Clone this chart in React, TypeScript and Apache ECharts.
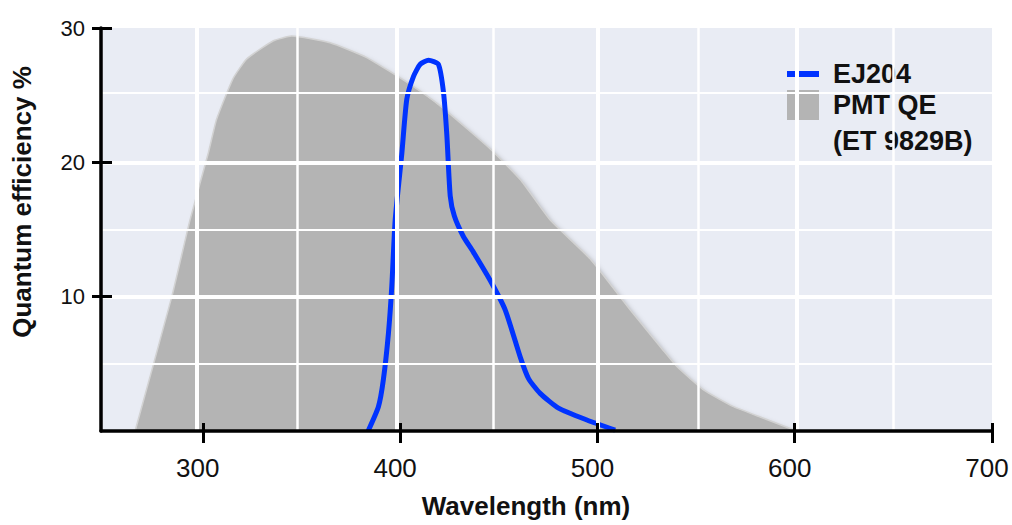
import React, { useEffect, useRef } from 'react';
import * as echarts from 'echarts';

// PMT quantum efficiency (ET 9829B): [wavelength nm, QE %]
const pmtQE: [number, number][] = [
  [265.7, 0], [284.3, 10], [293.5, 15.7], [302.8, 20.7], [307, 23.2], [315.2, 26.2],
  [322.3, 27.7], [335.8, 29.05], [345.1, 29.4], [364.5, 28.9], [383.1, 27.8],
  [405.1, 25.8], [420.3, 24.2], [445.7, 21.0], [461, 18.7], [476.1, 15.7],
  [496.4, 12.8], [516.7, 9.0], [533.4, 6.0], [540.3, 4.8], [553.8, 3.06],
  [569, 1.81], [584.2, 0.95], [601, 0],
];

// EJ204 emission spectrum (scaled): [wavelength nm, value]
const ej204: [number, number][] = [
  [383.8, 0], [389, 1.8], [391.5, 3.8], [394.1, 7.3], [395.8, 10.8], [397.5, 15.7],
  [400.9, 20.7], [403.4, 24.7], [406.8, 26.4], [410.2, 27.3], [414.4, 27.6],
  [419.4, 27.3], [422, 25.2], [423.7, 22], [425.4, 17.5], [427.5, 16], [432, 14.5],
  [437.2, 13.3], [445.7, 11.2], [453.3, 9.0], [460.9, 5.5], [465.1, 3.9], [471, 2.8],
  [480.3, 1.7], [494.7, 0.82], [509, 0.07],
];

const xTicks = [300, 400, 500, 600, 700];
const yTicks = [10, 20, 30];
const xGridMajor = [297, 398.5, 500, 601];
const xGridMinor = [348, 447, 551, 650];
const yGridMajor = [10, 20];
const yGridMinor = [5, 15, 25.2];

const X_MIN = 248.4;
const X_MAX = 700;
const FONT = '"Liberation Sans", Arial, Helvetica, sans-serif';

export default function App() {
  const ref = useRef<HTMLDivElement>(null);

  useEffect(() => {
    if (!ref.current) return;
    const chart = echarts.init(ref.current, undefined, { renderer: 'svg' });

    const gridLines = [
      ...xGridMajor.map((v) => ({ xAxis: v, lineStyle: { width: 4 } })),
      ...xGridMinor.map((v) => ({ xAxis: v, lineStyle: { width: 2.5 } })),
      ...yGridMajor.map((v) => ({ yAxis: v, lineStyle: { width: 4 } })),
      ...yGridMinor.map((v) => ({ yAxis: v, lineStyle: { width: 2 } })),
    ];

    const axisLineStyle = { color: '#000', width: 3.5 };
    const legendText = {
      fontSize: 27,
      fontWeight: 'bold',
      color: '#111',
      fontFamily: FONT,
      padding: [0, 0, 0, 9],
    };

    chart.setOption({
      animation: false,
      textStyle: { fontFamily: FONT },
      grid: {
        left: 101,
        right: 20,
        top: 28,
        bottom: 94,
        show: true,
        backgroundColor: '#e9ecf4',
        borderWidth: 0,
      },
      xAxis: [
        {
          type: 'value',
          min: X_MIN,
          max: X_MAX,
          z: 10,
          axisLine: { show: true, onZero: false, lineStyle: axisLineStyle },
          axisTick: { show: true, customValues: xTicks, length: 12, lineStyle: { color: '#000', width: 3 } },
          axisLabel: {
            customValues: xTicks,
            fontSize: 26,
            color: '#111',
            margin: 24,
            fontFamily: FONT,
            padding: [0, 10, 0, 0],
          },
          splitLine: { show: false },
        },
        {
          type: 'value',
          min: X_MIN,
          max: X_MAX,
          position: 'bottom',
          z: 10,
          axisLine: { show: false },
          axisTick: { show: true, inside: true, customValues: xTicks, length: 8, lineStyle: { color: '#000', width: 3 } },
          axisLabel: { show: false },
          splitLine: { show: false },
        },
      ],
      yAxis: [
        {
          type: 'value',
          min: 0,
          max: 30,
          interval: 10,
          z: 10,
          axisLine: { show: true, onZero: false, lineStyle: axisLineStyle },
          axisTick: { show: true, customValues: yTicks, length: 9, lineStyle: { color: '#000', width: 3 } },
          axisLabel: {
            customValues: yTicks,
            fontSize: 22,
            color: '#111',
            margin: 16,
            fontFamily: FONT,
            padding: [0, 0, 8, 0],
          },
          splitLine: { show: false },
        },
        {
          type: 'value',
          min: 0,
          max: 30,
          interval: 10,
          position: 'left',
          z: 10,
          axisLine: { show: false },
          axisTick: { show: true, inside: true, customValues: yTicks, length: 11, lineStyle: { color: '#000', width: 3 } },
          axisLabel: { show: false },
          splitLine: { show: false },
        },
      ],
      legend: [
        {
          data: [{ name: 'EJ204', icon: 'rect', itemStyle: { color: '#0033ff' } }],
          left: 787,
          top: 59,
          orient: 'vertical',
          padding: 0,
          itemWidth: 32,
          itemHeight: 6,
          selectedMode: false,
          textStyle: { ...legendText, lineHeight: 30 },
        },
        {
          data: [{ name: 'PMT QE (ET 9829B)', icon: 'rect', itemStyle: { color: '#b4b4b4' } }],
          left: 787,
          top: 51,
          orient: 'vertical',
          padding: 0,
          itemWidth: 32,
          itemHeight: 30,
          selectedMode: false,
          formatter: () => ' \nPMT QE\n(ET 9829B)',
          textStyle: { ...legendText, lineHeight: 36 },
        },
      ],
      graphic: [
        {
          type: 'text',
          x: 22,
          y: 202,
          rotation: Math.PI / 2,
          style: {
            text: 'Quantum efficiency %',
            fontSize: 26,
            fontWeight: 'bold',
            fontFamily: FONT,
            fill: '#111',
            align: 'center',
            verticalAlign: 'middle',
          },
        },
        {
          type: 'text',
          x: 526,
          y: 506,
          style: {
            text: 'Wavelength (nm)',
            fontSize: 26,
            fontWeight: 'bold',
            fontFamily: FONT,
            fill: '#111',
            align: 'center',
            verticalAlign: 'middle',
          },
        },
      ],
      series: [
        {
          name: 'gridlines',
          type: 'line',
          z: 1,
          silent: true,
          data: [[300, 0]],
          showSymbol: false,
          symbol: 'none',
          lineStyle: { width: 0 },
          markLine: {
            silent: true,
            symbol: ['none', 'none'],
            label: { show: false },
            lineStyle: { color: '#ffffff', type: 'solid' },
            data: gridLines,
          },
        },
        {
          name: 'PMT QE (ET 9829B)',
          type: 'line',
          z: 2,
          data: pmtQE,
          symbol: 'none',
          smooth: 0.15,
          color: '#b4b4b4',
          lineStyle: { color: '#d2d2d2', width: 1.5 },
          areaStyle: {
            color: '#b4b4b4',
            opacity: 1,
            shadowColor: 'rgba(0,0,0,0.25)',
            shadowBlur: 5,
            shadowOffsetX: 3,
            shadowOffsetY: 3,
          },
        },
        {
          name: 'EJ204',
          type: 'line',
          z: 3,
          data: ej204,
          symbol: 'none',
          smooth: 0.2,
          color: '#0033ff',
          lineStyle: { color: '#0033ff', width: 5 },
        },
      ],
    });

    return () => chart.dispose();
  }, []);

  return (
    <div
      ref={ref}
      style={{ position: 'fixed', left: 0, top: 0, width: 1012, height: 525, background: '#ffffff' }}
    />
  );
}
